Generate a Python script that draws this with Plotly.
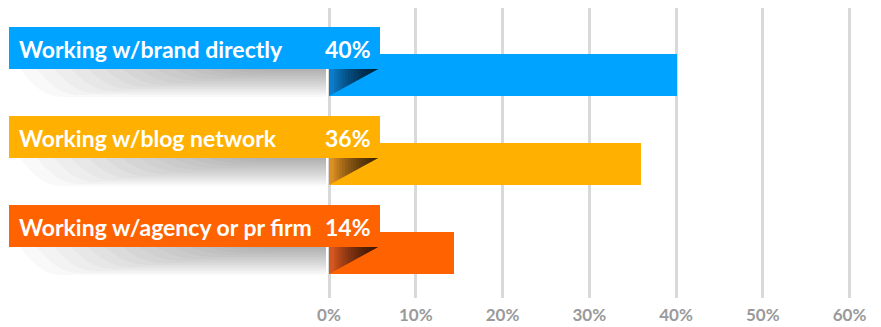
import plotly.graph_objects as go

# ---- data ----
categories = ["Working w/brand directly", "Working w/blog network", "Working w/agency or pr firm"]
values = [40.1, 36.0, 14.4]
value_labels = ["40%", "36%", "14%"]
tick_values = [0, 10, 20, 30, 40, 50, 60]
tick_labels = ["0%", "10%", "20%", "30%", "40%", "50%", "60%"]

bar_colors = ["#00A3FF", "#FFB000", "#FF6200"]
fold_colors = ["#0B7DCB", "#DC8F22", "#D6561F"]

# ---- layout geometry (pixels of the 881x327 page) ----
PAGE_W, PAGE_H = 881, 327
OFF = 8                     # default page body margin
W, H = PAGE_W - OFF, PAGE_H - OFF
X0_PX, PX_PER_UNIT = 329.0, 8.675
TOP_PX, BOT_PX = OFF, 298
ROW0_PX, ROW_STEP = 75.0, 89.0

def xv(px):
    return (px - X0_PX) / PX_PER_UNIT

def yv(py):
    return (py - ROW0_PX) / ROW_STEP

x_range = [xv(OFF), xv(PAGE_W)]
y_range = [yv(BOT_PX), yv(TOP_PX)]

fig = go.Figure()
ys = list(range(len(categories)))
fig.add_trace(go.Bar(
    x=values, y=ys, orientation="h", width=42 / ROW_STEP,
    marker=dict(color=bar_colors, line=dict(width=0)),
    hoverinfo="skip", showlegend=False,
))

shapes = []
annotations = []
for i, cat in enumerate(categories):
    cy = ROW0_PX + ROW_STEP * i
    rib_top, rib_bot = cy - 48, cy - 6
    bar_bot = cy + 21
    # soft shadow under the ribbon
    n = 14
    for k in range(n):
        h = 28 * (1 - k / n)
        xl = 20 + 17 * k
        path = (f"M {xv(326)},{yv(rib_bot)} L {xv(xl)},{yv(rib_bot)} "
                f"Q {xv(xl + 20)},{yv(rib_bot + h)} {xv(xl + 40)},{yv(rib_bot + h)} "
                f"L {xv(326)},{yv(rib_bot + h)} Z")
        shapes.append(dict(type="path", path=path, xref="x", yref="y",
                           fillcolor="rgba(0,0,0,0.024)", line=dict(width=0), layer="above"))
    # ribbon
    shapes.append(dict(type="rect", xref="x", yref="y",
                       x0=xv(9), x1=xv(380), y0=yv(rib_top), y1=yv(rib_bot),
                       fillcolor=bar_colors[i], line=dict(width=0), layer="above"))
    # fold
    A = (329, rib_bot); B = (378, rib_bot); C = (329, bar_bot)
    shapes.append(dict(type="path", xref="x", yref="y",
                       path=f"M {xv(A[0])},{yv(A[1])} L {xv(B[0])},{yv(B[1])} L {xv(C[0])},{yv(C[1])} Z",
                       fillcolor=fold_colors[i], line=dict(width=0), layer="above"))
    m = 16
    for j in range(m):
        s = 0.9 - 0.85 * j / (m - 1)
        a = (B[0] + s * (A[0] - B[0]), B[1] + s * (A[1] - B[1]))
        c = (B[0] + s * (C[0] - B[0]), B[1] + s * (C[1] - B[1]))
        shapes.append(dict(type="path", xref="x", yref="y",
                           path=f"M {xv(a[0])},{yv(a[1])} L {xv(B[0])},{yv(B[1])} L {xv(c[0])},{yv(c[1])} Z",
                           fillcolor="rgba(0,0,0,0.075)", line=dict(width=0), layer="above"))
    # texts
    mid = yv((rib_top + rib_bot) / 2 + 1)
    annotations.append(dict(x=xv(17), y=mid, xref="x", yref="y",
                            text=cat, showarrow=False, xanchor="left", yanchor="middle",
                            font=dict(family="Lato", size=23, color="white", weight="bold")))
    annotations.append(dict(x=xv(373), y=mid, xref="x", yref="y",
                            text=value_labels[i], showarrow=False, xanchor="right", yanchor="middle",
                            font=dict(family="Lato", size=23, color="white", weight="bold")))

fig.update_layout(
    width=W, height=H,
    margin=dict(l=0, r=0, t=TOP_PX - OFF, b=PAGE_H - BOT_PX, pad=0),
    paper_bgcolor="white", plot_bgcolor="white",
    shapes=shapes, annotations=annotations,
    xaxis=dict(range=x_range, tickvals=tick_values, ticktext=tick_labels,
               showgrid=True, gridcolor="#D9D9D9", gridwidth=3, zeroline=False,
               showline=False, ticks="", ticklabelstandoff=5,
               tickfont=dict(family="Lato", size=17, color="#9A9A9A", weight="bold"),
               fixedrange=True),
    yaxis=dict(range=y_range, showgrid=False, zeroline=False, showticklabels=False,
               showline=False, ticks="", fixedrange=True),
    bargap=0,
)

fig.write_html("out.html")
